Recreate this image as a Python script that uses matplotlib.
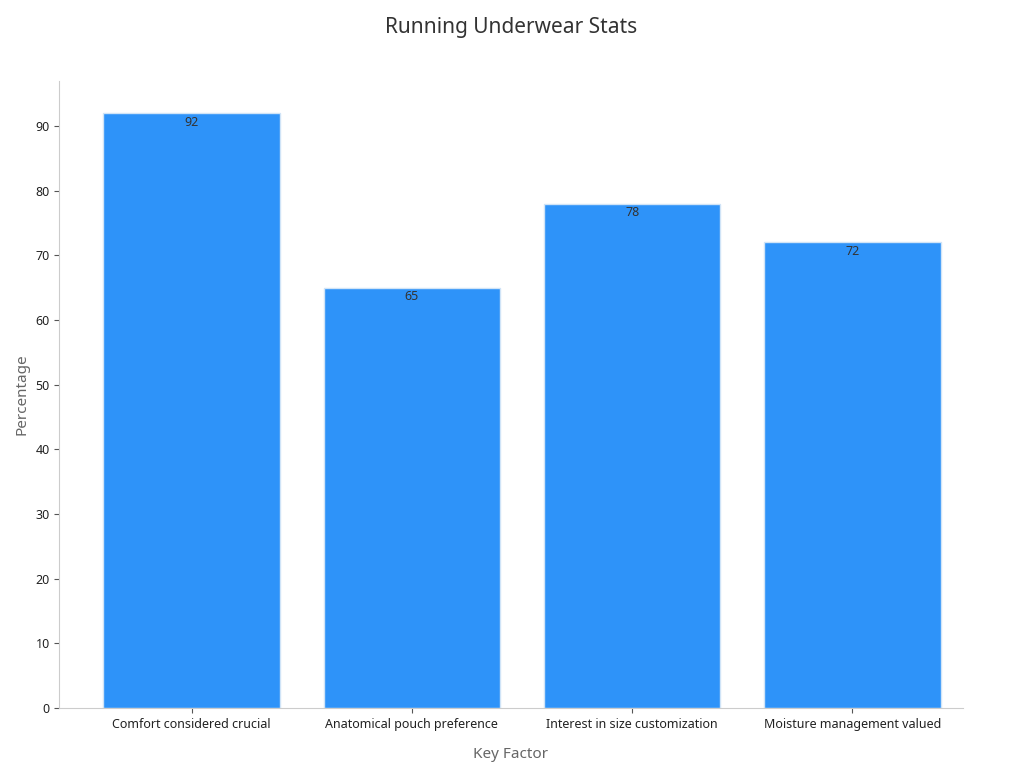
import matplotlib
matplotlib.use('Agg')
import matplotlib.pyplot as plt

CATEGORIES = ['Comfort considered crucial', 'Anatomical pouch preference',
              'Interest in size customization', 'Moisture management valued']
VALUES = [92, 65, 78, 72]

plt.rcParams['font.family'] = ['Noto Sans', 'DejaVu Sans']

fig, ax = plt.subplots(figsize=(10.24, 7.68), dpi=100)
fig.subplots_adjust(left=0.058, right=0.94, top=0.895, bottom=0.078)

bars = ax.bar(range(len(CATEGORIES)), VALUES, width=0.8, color='#2e93f9',
              edgecolor='#d0e4f7', linewidth=1)
for i, v in enumerate(VALUES):
    ax.text(i, v - 0.4, str(v), ha='center', va='top', fontsize=9, color='#333333')

ax.set_xticks(range(len(CATEGORIES)))
ax.set_xticklabels(CATEGORIES, fontsize=9, color='#222222')
ax.set_yticks(range(0, 91, 10))
ax.tick_params(axis='y', labelsize=9, colors='#222222')
ax.tick_params(axis='both', color='#555555')
ax.set_xlim(-0.6, 3.5)
ax.set_ylim(0, 97)
ax.set_xlabel('Key Factor', fontsize=11, color='#666666', labelpad=12)
ax.set_ylabel('Percentage', fontsize=11, color='#666666')
ax.set_title('Running Underwear Stats', fontsize=15, color='#333333', pad=34)
for s in ('top', 'right'):
    ax.spines[s].set_visible(False)
for s in ('left', 'bottom'):
    ax.spines[s].set_color('#cccccc')

fig.savefig('out.png', dpi=100)
